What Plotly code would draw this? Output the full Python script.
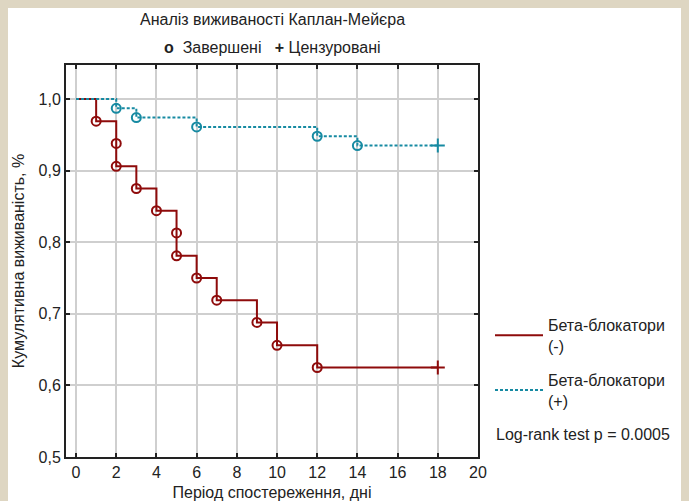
import plotly.graph_objects as go

# ---- data ----
neg_event_days = [1, 2, 2, 3, 4, 5, 5, 6, 7, 9, 10, 12]
neg_event_surv = [0.969, 0.938, 0.906, 0.875, 0.844, 0.813, 0.781, 0.750, 0.719, 0.688, 0.656, 0.625]
neg_censor_days = [18]
neg_censor_surv = [0.625]

pos_event_days = [2, 3, 6, 12, 14]
pos_event_surv = [0.987, 0.974, 0.961, 0.948, 0.935]
pos_censor_days = [18]
pos_censor_surv = [0.935]

x_ticks = [0, 2, 4, 6, 8, 10, 12, 14, 16, 18, 20]
y_ticks = [0.5, 0.6, 0.7, 0.8, 0.9, 1.0]

RED = "#8e0b0b"
BLUE = "#168aa2"
BEIGE = "#ded6c2"
FONT = "Liberation Sans, Arial, sans-serif"
FS = 16

fig = go.Figure()

def add_group(name, days, surv, cdays, csurv, color, dash, grp):
    cx = [0] + days + cdays
    cy = [1.0] + surv + csurv
    fig.add_trace(go.Scatter(x=cx, y=cy, mode="lines", line_shape="hv",
                             line=dict(color=color, width=2, dash=dash),
                             name=name, showlegend=True, legendgroup=grp,
                             hoverinfo="skip"))
    fig.add_trace(go.Scatter(x=days, y=surv, mode="markers", showlegend=False,
                             legendgroup=grp,
                             marker=dict(symbol="circle-open", size=9, color=color,
                                         line=dict(width=2, color=color))))
    fig.add_trace(go.Scatter(x=cdays, y=csurv, mode="markers", showlegend=False,
                             legendgroup=grp,
                             marker=dict(symbol="cross-thin-open", size=10, color=color,
                                         line=dict(width=2, color=color))))

add_group("Бета-блокатори<br>(-)", neg_event_days, neg_event_surv,
          neg_censor_days, neg_censor_surv, RED, "solid", "a")
add_group("Бета-блокатори<br>(+)", pos_event_days, pos_event_surv,
          pos_censor_days, pos_censor_surv, BLUE, "3px,2px", "b")

# page body has an 8px margin -> figure origin at (8, 8) of the window
OFF = 8
L, R, T, B = 66 - OFF, 211, 65 - OFF, 44
W, H = 689 - OFF, 501 - OFF
pw, ph = W - L - R, H - T - B

axis_common = dict(showgrid=True, gridcolor="#cfcfcf", gridwidth=1.5,
                   showline=True, linecolor="#222", linewidth=2, mirror="ticks",
                   ticks="inside", ticklen=4, tickwidth=1.5, tickcolor="#222",
                   zeroline=False, tickfont=dict(size=FS, color="#222"))

fig.update_xaxes(range=[-0.5, 20], tickvals=x_ticks,
                 title=dict(text="Період спостереження, днi", font=dict(size=FS, color="#222"),
                            standoff=9),
                 **axis_common)
fig.update_yaxes(range=[0.5, 1.0475], tickvals=y_ticks, tickformat=".1f",
                 title=dict(text="Кумулятивна виживаність, %", font=dict(size=FS, color="#222"),
                            standoff=10),
                 **axis_common)

def py(page_y):
    return 1 - (page_y - OFF - T) / ph

def px(page_x):
    return (page_x - OFF - L) / pw

fig.add_annotation(text="Аналіз виживаності Каплан-Мейєра", xref="paper", yref="paper",
                   x=0.5, y=py(20), showarrow=False,
                   font=dict(size=FS, color="#222"), yanchor="middle")
fig.add_annotation(text="<b>o</b>  Завершені   <b>+</b> Цензуровані", xref="paper", yref="paper",
                   x=0.5, y=py(47), showarrow=False,
                   font=dict(size=FS, color="#222"), yanchor="middle")
fig.add_annotation(text="Log-rank test p = 0.0005", xref="paper", yref="paper",
                   x=px(494), y=py(434), showarrow=False,
                   xanchor="left", yanchor="middle",
                   font=dict(size=FS, color="#222"))

fig.update_layout(
    width=W, height=H,
    margin=dict(l=L, r=R, t=T, b=B, autoexpand=False),
    paper_bgcolor="white", plot_bgcolor="white",
    separators=",.",
    font=dict(family=FONT, size=FS, color="#222"),
    legend=dict(x=px(490), y=py(308), xanchor="left", yanchor="top",
                bgcolor="rgba(0,0,0,0)", font=dict(size=FS, color="#222"),
                tracegroupgap=10, itemwidth=48, traceorder="grouped"),
)

fig.write_html("out.html",
               post_script="document.body.style.background='" + BEIGE + "';"
                           "document.documentElement.style.background='" + BEIGE + "';")
